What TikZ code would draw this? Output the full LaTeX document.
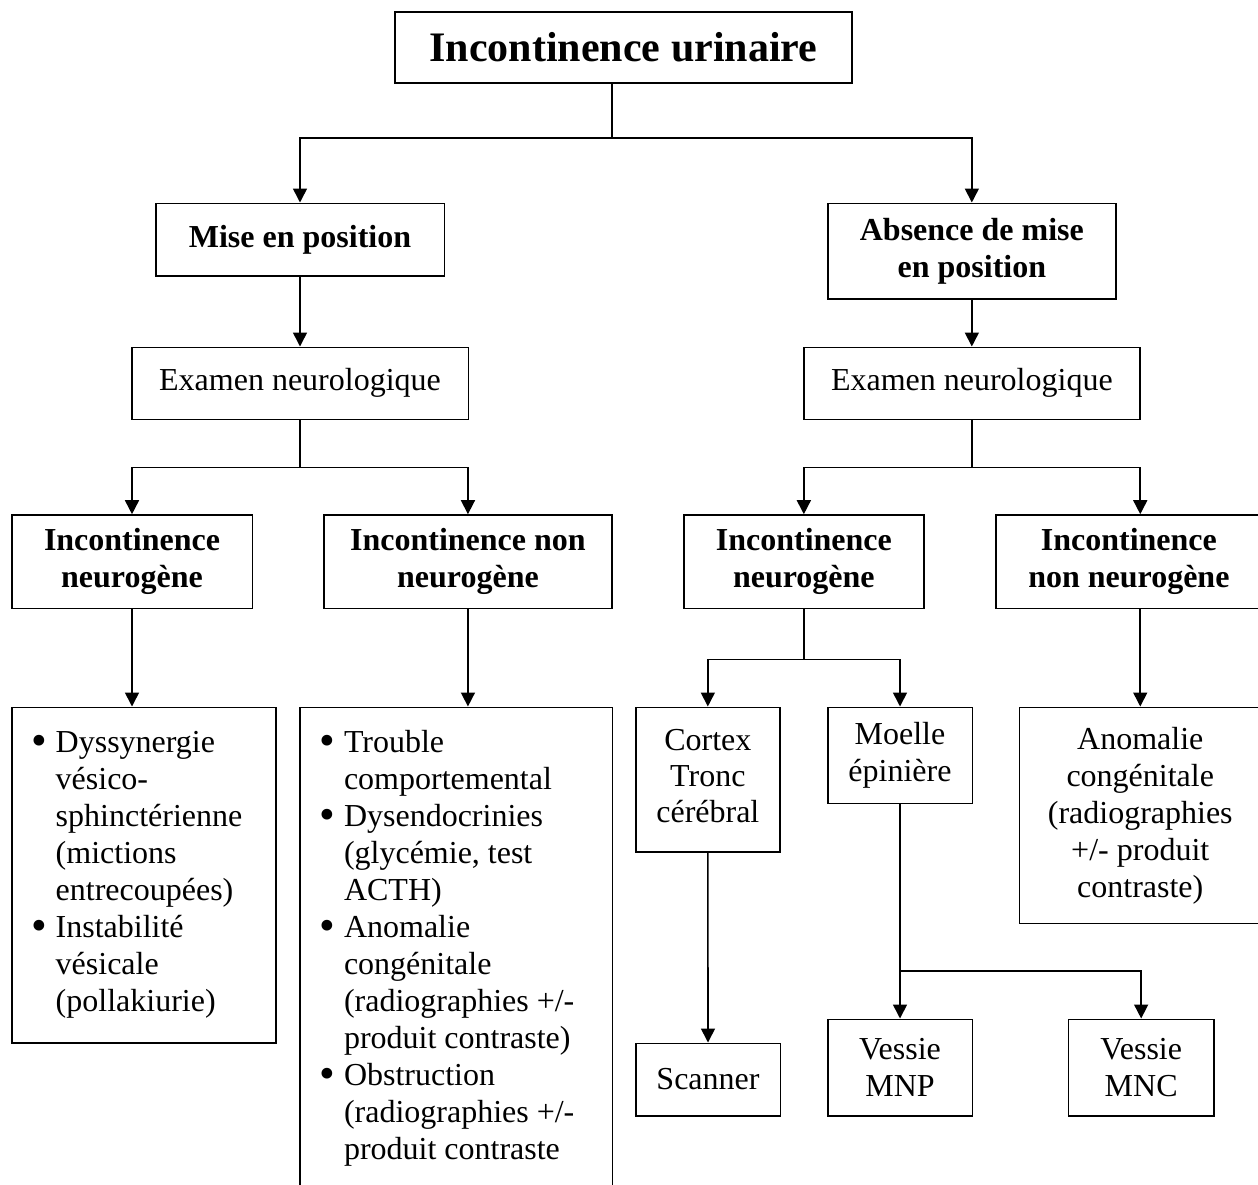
\documentclass[tikz,border=0pt]{standalone}
\usepackage{fontspec}
\setmainfont{Liberation Serif}
\usetikzlibrary{arrows.meta}

% a slightly heavier list bullet
\newcommand{\puce}{\makebox[11pt][c]{\raisebox{-0.1em}{\scalebox{1.4}{\textbullet}}}}
% bullet list set inside a fixed-size frame: width, height, rows
\newcommand{\pucebox}[3]{%
  \parbox[c][#2][t]{#1}{\vspace*{19pt}\hspace*{22pt}%
    \begin{tabular}[t]{@{}l@{\hspace{11pt}}l@{}}#3\end{tabular}}}

\begin{document}
\begin{tikzpicture}[x=1pt,y=-1pt,
  box/.style={draw, line width=1.6pt, inner sep=0pt, align=center,
              font=\fontsize{32}{37}\selectfont},
  boldbox/.style={box, font=\fontsize{32}{37}\selectfont\bfseries},
  listbox/.style={draw, line width=1.6pt, inner sep=0pt,
              font=\fontsize{32}{37}\selectfont},
  link/.style={line width=1.6pt},
  arr/.style={link, -{Triangle[length=14pt,width=14pt]}}]

\useasboundingbox (0,0) rectangle (1258,1184);
\clip (0,0) rectangle (1258,1184);
\fill[white] (0,0) rectangle (1258,1184);

% ---- level 0
\node[box, font=\fontsize{42}{48}\selectfont\bfseries,
      minimum width=457, minimum height=71] (title) at (623.5,47.5)
      {Incontinence urinaire};

% ---- level 1
\node[boldbox, minimum width=288.6, minimum height=72.4] (mise) at (300,239.5)
      {Mise en position};
\node[boldbox, minimum width=288.3, minimum height=95.7] (abs) at (971.85,251.15)
      {Absence de mise\\en position};

% ---- level 2
\node[box, minimum width=336.6, minimum height=72] (exL) at (300,383.3)
      {Examen neurologique};
\node[box, minimum width=336.3, minimum height=72] (exR) at (971.85,383.3)
      {Examen neurologique};

% ---- level 3
\node[boldbox, minimum width=240.6, minimum height=93.3] (neuroL) at (132,561.65)
      {Incontinence\\neurogène};
\node[boldbox, minimum width=288.5, minimum height=93.3] (nonL) at (467.95,561.65)
      {Incontinence non\\neurogène};
\node[boldbox, minimum width=240.3, minimum height=93.3] (neuroR) at (803.85,561.65)
      {Incontinence\\neurogène};
\node[boldbox, minimum width=266.3, minimum height=93.3] (nonR) at (1128.85,561.65)
      {Incontinence\\non neurogène};

% ---- level 4
\node[listbox] (dyss) at (143.85,875.15)
  {\pucebox{264.3pt}{335.7pt}{%
    \puce & Dyssynergie\\
          & vésico-\\
          & sphinctérienne\\
          & (mictions\\
          & entrecoupées)\\
    \puce & Instabilité\\
          & vésicale\\
          & (pollakiurie)}};
\node[listbox] (liste) at (456.15,953.65)
  {\pucebox{312.3pt}{492.7pt}{%
    \puce & Trouble\\
          & comportemental\\
    \puce & Dysendocrinies\\
          & (glycémie, test\\
          & ACTH)\\
    \puce & Anomalie\\
          & congénitale\\
          & (radiographies +/-\\
          & produit contraste)\\
    \puce & Obstruction\\
          & (radiographies +/-\\
          & produit contraste}};
\node[box, minimum width=144.3, minimum height=144.4] (cortex) at (707.85,779.5)
      {\raisebox{4pt}{\begin{tabular}{@{}c@{}}Cortex\\[-1pt]Tronc\\[-1pt]cérébral\end{tabular}}};
\node[box, minimum width=144.6, minimum height=96] (moelle) at (900,755.3)
      {Moelle\\épinière};
\node[box, minimum width=241.5, minimum height=216] (anom) at (1140.25,815.3)
      {Anomalie\\congénitale\\(radiographies\\+/- produit\\contraste)};

% ---- level 5
\node[box, minimum width=144.6, minimum height=72.4] (scanner) at (708,1079.5)
      {Scanner};
\node[box, minimum width=144.6, minimum height=96.4] (mnp) at (900,1067.5)
      {Vessie\\MNP};
\node[box, minimum width=145.7, minimum height=96.4] (mnc) at (1141.15,1067.5)
      {Vessie\\MNC};

% ---- connectors
\coordinate (j0) at (612,138);
\draw[link] (title.south -| j0) -- (j0);
\draw[arr] (j0) -| (mise.north);
\draw[arr] (j0) -| (abs.north);
\draw[arr] (mise.south) -- (exL.north);
\draw[arr] (abs.south) -- (exR.north);

\coordinate (jL) at (300,467.3);
\draw[link] (exL.south) -- (jL);
\draw[arr] (jL) -| (neuroL.north);
\draw[arr] (jL) -| (nonL.north);

\coordinate (jR) at (971.85,467.3);
\draw[link] (exR.south) -- (jR);
\draw[arr] (jR) -| (neuroR.north);
\draw[arr] (jR) -| (nonR.north -| anom.north);

\draw[arr] (neuroL.south) -- (neuroL.south |- dyss.north);
\draw[arr] (nonL.south) -- (nonL.south |- liste.north);
\draw[arr] (nonR.south -| anom.north) -- (anom.north);

\coordinate (jN) at (803.85,659.3);
\draw[link] (neuroR.south) -- (jN);
\draw[arr] (jN) -| (cortex.north);
\draw[arr] (jN) -| (moelle.north);
\draw[arr] (cortex.south) -- (scanner.north);

\coordinate (jM) at (900,971);
\draw[link] (moelle.south) -- (jM);
\draw[arr] (jM) -- (mnp.north);
\draw[arr] (jM) -| (mnc.north);
\end{tikzpicture}
\end{document}
